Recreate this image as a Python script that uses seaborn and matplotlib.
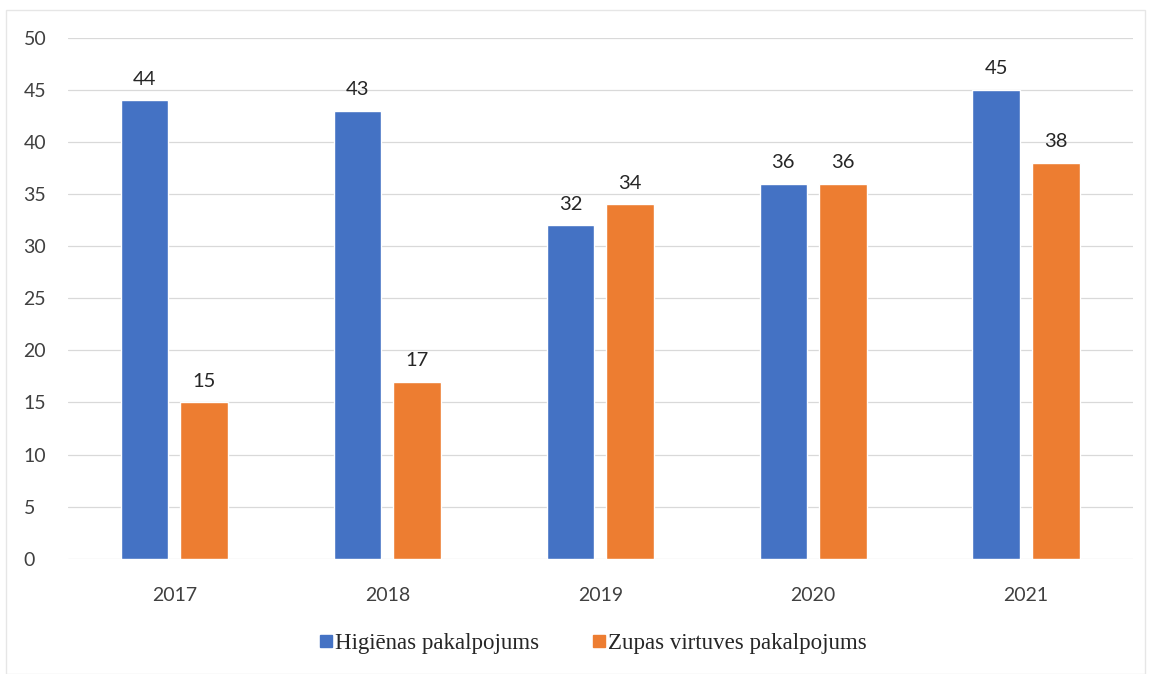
import matplotlib
matplotlib.use("Agg")
import matplotlib.pyplot as plt
import seaborn as sns
import pandas as pd
from matplotlib.patches import Rectangle
from matplotlib.lines import Line2D

# data
years = ["2017", "2018", "2019", "2020", "2021"]
higienas = [44, 43, 32, 36, 45]
zupas = [15, 17, 34, 36, 38]
series_names = ["Higiēnas pakalpojums", "Zupas virtuves pakalpojums"]
colors = ["#4472C4", "#ED7D31"]
y_ticks = [0, 5, 10, 15, 20, 25, 30, 35, 40, 45, 50]

df = pd.DataFrame({
    "year": years * 2,
    "value": higienas + zupas,
    "series": [series_names[0]] * len(years) + [series_names[1]] * len(years),
})

sns.set_theme(style="white")
plt.rcParams["font.family"] = ["Lato", "DejaVu Sans"]

fig = plt.figure(figsize=(11.51, 6.74), dpi=100)
ax = fig.add_axes([0.059, 0.171, 0.925, 0.773])

sns.barplot(data=df, x="year", y="value", hue="series", palette=colors,
            width=0.56, gap=0.2, ax=ax, legend=False, saturation=1)

for cont in ax.containers:
    ax.bar_label(cont, padding=9, fontsize=14.5, color="#262626")

ax.set_ylim(0, 50)
ax.set_yticks(y_ticks)
ax.set_xlim(-0.5, len(years) - 0.5)
ax.grid(axis="y", color="#d9d9d9", linewidth=0.9)
ax.set_axisbelow(True)
for s in ax.spines.values():
    s.set_visible(False)
ax.tick_params(axis="both", labelsize=14, colors="#404040", length=0)
ax.tick_params(axis="x", pad=20)
ax.tick_params(axis="y", pad=32)
ax.set_xlabel("")
ax.set_ylabel("")
for lbl in ax.get_yticklabels():
    lbl.set_horizontalalignment("left")

handles = [Line2D([], [], marker="s", linestyle="", markersize=8, color=c) for c in colors]
fig.legend(handles, series_names, loc="center", bbox_to_anchor=(0.512, 0.045), ncol=2,
           frameon=False, handletextpad=-0.2, handlelength=1.2, columnspacing=2.0,
           prop={"family": "Liberation Serif", "size": 16.5})

# faint outer frame like the scanned chart
fig.patches.append(Rectangle((0.005, 0.0), 0.99, 0.985, transform=fig.transFigure,
                             fill=False, edgecolor="#e6e6e6", linewidth=1))

fig.savefig("out.png", dpi=100)
